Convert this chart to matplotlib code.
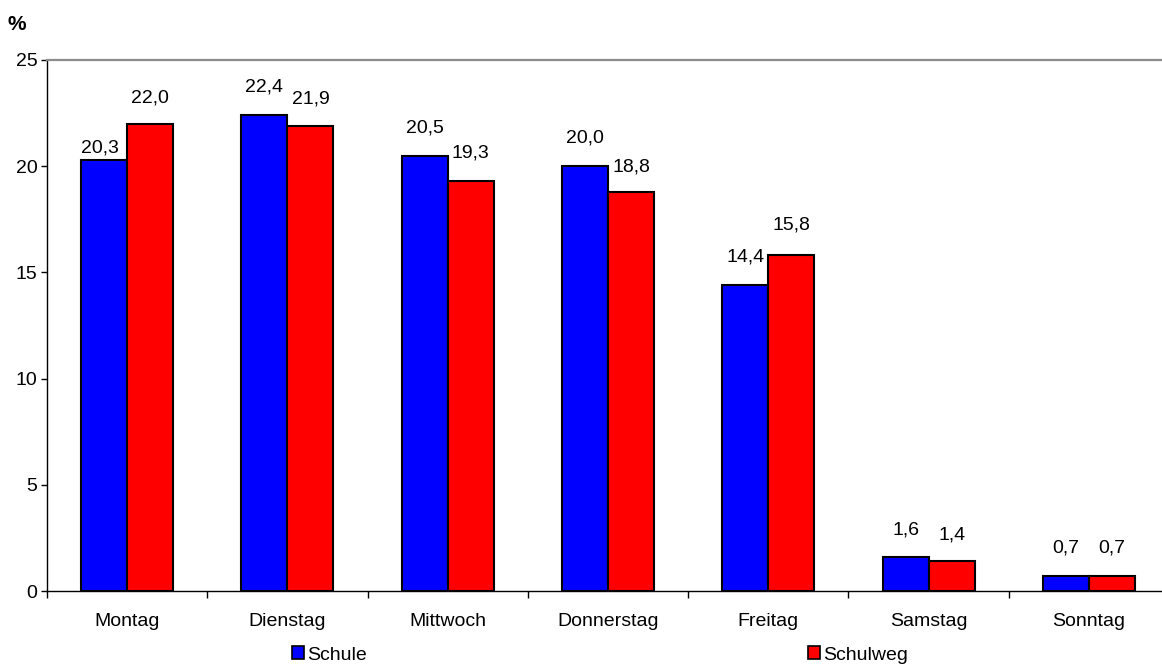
import numpy as np
import matplotlib
matplotlib.use("Agg")
import matplotlib.pyplot as plt
from matplotlib.patches import Patch

plt.rcParams['font.family'] = ['Liberation Sans', 'DejaVu Sans']

# Verteilung nach Wochentagen, Angaben in %
tage = ['Montag', 'Dienstag', 'Mittwoch', 'Donnerstag', 'Freitag', 'Samstag', 'Sonntag']
schule = [20.3, 22.4, 20.5, 20.0, 14.4, 1.6, 0.7]
schulweg = [22.0, 21.9, 19.3, 18.8, 15.8, 1.4, 0.7]

# label offsets above the bar top (pixels)
off_schule = [12, 28, 28, 28, 28, 27, 28]
off_schulweg = [26, 27, 28, 25, 30, 26, 28]

FS = 14

fig = plt.figure(figsize=(11.62, 6.66), dpi=100)
ax = fig.add_axes([47 / 1162, 1 - 591 / 666, 1122 / 1162, 531 / 666])

x = np.arange(len(tage))
w = 0.287
ax.bar(x - w / 2, schule, w, color='#0000FF', edgecolor='black', linewidth=1.5, label='Schule')
ax.bar(x + w / 2, schulweg, w, color='#FF0000', edgecolor='black', linewidth=1.5, label='Schulweg')

def fmt(v):
    return f"{v:.1f}".replace('.', ',')

for xi, v, o in zip(x - w / 2, schule, off_schule):
    dx = -4 if o < 20 else 0
    ax.annotate(fmt(v), (xi, v), xytext=(dx, o), textcoords='offset pixels',
                ha='center', va='center', fontsize=FS)
for xi, v, o in zip(x + w / 2, schulweg, off_schulweg):
    ax.annotate(fmt(v), (xi, v), xytext=(0, o), textcoords='offset pixels',
                ha='center', va='center', fontsize=FS)

ax.set_xlim(-0.5, len(tage) - 0.5)
ax.set_ylim(0, 25)
ax.set_yticks([0, 5, 10, 15, 20, 25])
ax.tick_params(axis='y', direction='out', length=4, width=1, pad=3, labelsize=FS)

ax.set_xticks(x)
ax.set_xticklabels(tage)
ax.set_xticks(np.arange(len(tage) + 1) - 0.5, minor=True)
ax.tick_params(axis='x', which='major', length=0, pad=16, labelsize=FS)
ax.tick_params(axis='x', which='minor', direction='out', length=5, width=1)

ax.spines['right'].set_visible(False)
ax.spines['top'].set_color('#8c8c8c')
ax.spines['top'].set_linewidth(1.6)
ax.spines['left'].set_linewidth(1)
ax.spines['bottom'].set_linewidth(1)

fig.text(8 / 1162, 1 - 24 / 666, '%', fontsize=FS + 1, fontweight='bold', va='center')

# legend entries sit far apart below the axis
for label, col, xpos in [('Schule', '#0000FF', 292), ('Schulweg', '#FF0000', 808)]:
    fig.legend(handles=[Patch(facecolor=col, edgecolor='black', linewidth=1.2, label=label)],
               loc='center left', bbox_to_anchor=(xpos / 1162, 1 - 655 / 666),
               frameon=False, fontsize=FS, handlelength=0.6, handleheight=0.6,
               handletextpad=0.2, borderpad=0, borderaxespad=0)

fig.savefig('out.png', dpi=100)
